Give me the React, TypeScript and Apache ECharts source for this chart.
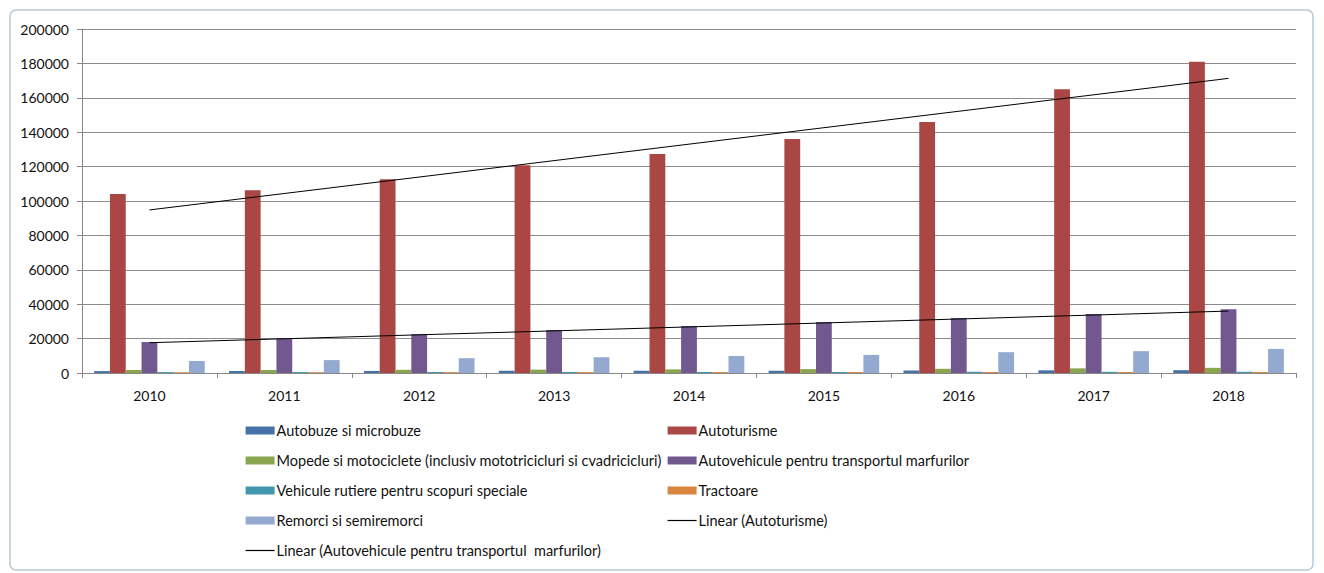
import React, { useEffect, useRef } from "react";
import * as echarts from "echarts";

const years = ["2010", "2011", "2012", "2013", "2014", "2015", "2016", "2017", "2018"];
const autobuze = [1100, 1150, 1200, 1250, 1300, 1350, 1450, 1550, 1650];
const autoturisme = [104000, 106300, 112700, 120800, 127300, 136000, 146000, 165000, 181000];
const mopede = [1700, 1750, 1850, 1950, 2100, 2250, 2450, 2700, 3000];
const marfuri = [18000, 20300, 22600, 25000, 27300, 29600, 32000, 34300, 37100];
const speciale = [550, 560, 580, 600, 620, 640, 660, 680, 700];
const tractoare = [450, 470, 490, 510, 530, 550, 570, 590, 610];
const remorci = [7000, 7500, 8600, 9200, 9900, 10500, 12100, 12700, 14000];
// trendline end points (2010, 2018)
const trendAutoturisme = [94800, 171300];
const trendMarfuri = [17600, 36000];

const names = [
  "Autobuze si microbuze",
  "Autoturisme",
  "Mopede si motociclete (inclusiv mototricicluri si cvadricicluri)",
  "Autovehicule pentru transportul marfurilor",
  "Vehicule rutiere pentru scopuri speciale",
  "Tractoare",
  "Remorci si semiremorci",
  "Linear (Autoturisme)",
  "Linear (Autovehicule pentru transportul  marfurilor)",
];
const colors = ["#4572A7", "#AA4643", "#89A54E", "#71588F", "#4198AF", "#DB843D", "#93A9CF"];

const trendData = (ends: number[]) =>
  years.map((_, i) => (i === 0 ? ends[0] : i === years.length - 1 ? ends[1] : null));

export default function App() {
  const ref = useRef<HTMLDivElement>(null);
  useEffect(() => {
    if (!ref.current) return;
    const chart = echarts.init(ref.current, null, { renderer: "svg" });
    const barSeries = [autobuze, autoturisme, mopede, marfuri, speciale, tractoare, remorci].map(
      (d, i) => ({
        name: names[i],
        type: "bar",
        data: d,
        itemStyle: { color: colors[i] },
        barGap: "0%",
        barCategoryGap: "18%",
      })
    );
    const lineStyle = { color: "#000", width: 1 };
    const axisText = { fontFamily: "Lato", fontSize: 14, color: "#111" };
    const legendText = { fontFamily: "Lato", fontSize: 14.5, color: "#111", padding: [0, 0, 0, -3] };
    const barItem = (n: string) => ({ name: n, icon: "rect" });
    const lineItem = (n: string) => ({
      name: n,
      itemStyle: { opacity: 0 },
      lineStyle: { color: "#000", width: 1.2 },
    });
    chart.setOption({
      animation: false,
      textStyle: { fontFamily: "Lato" },
      graphic: [
        {
          type: "rect",
          shape: { x: 10, y: 10, width: 1303, height: 560, r: 6 },
          style: { fill: "none", stroke: "#b8c8d6", lineWidth: 1.5 },
          silent: true,
        },
      ],
      grid: { left: 82, right: 28, top: 29, bottom: 200 },
      xAxis: {
        type: "category",
        data: years,
        axisLine: { lineStyle: { color: "#888" } },
        axisTick: { show: true, length: 5, lineStyle: { color: "#888" } },
        axisLabel: { ...axisText, margin: 15 },
      },
      yAxis: {
        type: "value",
        min: 0,
        max: 200000,
        interval: 20000,
        axisLine: { show: true, lineStyle: { color: "#888" } },
        axisTick: { show: true, length: 5, lineStyle: { color: "#888" } },
        splitLine: { lineStyle: { color: "#8c8c8c" } },
        axisLabel: { ...axisText, margin: 13, formatter: (v: number) => String(v) },
      },
      legend: [
        {
          orient: "vertical",
          left: 245,
          top: 423,
          padding: 0,
          itemWidth: 29,
          itemHeight: 8,
          itemGap: 15,
          textStyle: legendText,
          data: [barItem(names[0]), barItem(names[2]), barItem(names[4]), barItem(names[6]), lineItem(names[8])],
        },
        {
          orient: "vertical",
          left: 667,
          top: 423,
          padding: 0,
          itemWidth: 29,
          itemHeight: 8,
          itemGap: 15,
          textStyle: legendText,
          data: [barItem(names[1]), barItem(names[3]), barItem(names[5]), lineItem(names[7])],
        },
      ],
      series: [
        ...barSeries,
        {
          name: names[7],
          type: "line",
          data: trendData(trendAutoturisme),
          connectNulls: true,
          symbol: "none",
          lineStyle,
          itemStyle: { color: "#000" },
          z: 5,
        },
        {
          name: names[8],
          type: "line",
          data: trendData(trendMarfuri),
          connectNulls: true,
          symbol: "none",
          lineStyle,
          itemStyle: { color: "#000" },
          z: 5,
        },
      ],
    });
    return () => chart.dispose();
  }, []);
  return (
    <div
      ref={ref}
      style={{ position: "fixed", left: 0, top: 0, width: 1324, height: 573, background: "#fff" }}
    />
  );
}
